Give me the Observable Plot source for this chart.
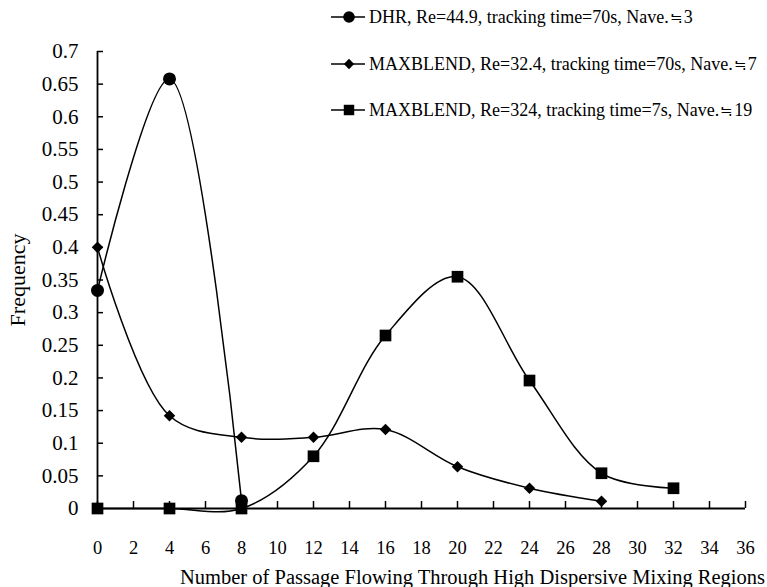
<!DOCTYPE html>
<html><head><meta charset="utf-8">
<script src="https://cdn.jsdelivr.net/npm/d3@7"></script>
<script src="https://cdn.jsdelivr.net/npm/@observablehq/plot@0.6"></script>
<style>
body{margin:0;background:#fff;}
#wrap{position:relative;width:767px;height:587px;font-family:"Liberation Serif","Times New Roman",serif;color:#000;}
#legend{position:absolute;left:331px;top:0;}
.row{position:absolute;left:0;height:24px;display:flex;align-items:center;white-space:nowrap;font-size:18px;}
.row svg{margin-right:4px;}
.cjk{font-family:"Noto Sans CJK JP";font-size:15px;margin:0 1px;}
</style>
</head><body>
<div id="wrap"><div id="legend"></div></div>
<script>
// ---- data ----
const xTicks = [0,2,4,6,8,10,12,14,16,18,20,22,24,26,28,30,32,34,36];
const yTicks = [0,0.05,0.1,0.15,0.2,0.25,0.3,0.35,0.4,0.45,0.5,0.55,0.6,0.65,0.7];
const seriesNames = [
  "DHR, Re=44.9, tracking time=70s, Nave.\u22523",
  "MAXBLEND, Re=32.4, tracking time=70s, Nave.\u22527",
  "MAXBLEND, Re=324, tracking time=7s, Nave.\u225219"
];
const dhrX = [0,4,8];
const dhrY = [0.334,0.658,0.012];
const mb32X = [0,4,8,12,16,20,24,28];
const mb32Y = [0.40,0.142,0.109,0.109,0.121,0.064,0.031,0.011];
const mb324X = [0,4,8,12,16,20,24,28,32];
const mb324Y = [0,0,0,0.08,0.265,0.355,0.196,0.054,0.031];
const xLabel = "Number of Passage Flowing Through High Dispersive Mixing Regions";
const yLabel = "Frequency";

const toRows = (xs, ys) => xs.map((x,i)=>({x, y: ys[i]}));
const dhr = toRows(dhrX, dhrY), mb32 = toRows(mb32X, mb32Y), mb324 = toRows(mb324X, mb324Y);
const symbols = ["circle","diamond2","square"];
const radii = [6.5, 5.2, 6.6];
const lineOpts = {x:"x", y:"y", curve:"catmull-rom", stroke:"black", strokeWidth:1.5};

const chart = Plot.plot({
  width: 767, height: 587,
  marginLeft: 97, marginRight: 22, marginTop: 51, marginBottom: 79,
  style: {fontFamily: '"Liberation Serif", "Times New Roman", serif', fontSize: "18px", color: "black", background: "white"},
  x: {domain: [0,36]},
  y: {domain: [0,0.7]},
  marks: [
    Plot.axisX(xTicks, {tickSize: -7, tickFormat: () => "", strokeWidth: 1.5, label: null}),
    Plot.axisX(xTicks, {tickSize: 0, tickPadding: 32, tickFormat: d => String(d), label: null, fontSize: 18.5}),
    Plot.axisY(yTicks, {tickSize: -6, tickFormat: () => "", strokeWidth: 1.5, label: null}),
    Plot.axisY(yTicks, {tickSize: 0, tickPadding: 19, tickFormat: d => String(+d.toFixed(2)), label: null, fontSize: 21}),
    Plot.ruleY([0], {stroke: "black", strokeWidth: 1.8}),
    Plot.ruleX([0], {stroke: "black", strokeWidth: 1.8}),
    Plot.line(dhr, lineOpts),
    Plot.line(mb32, lineOpts),
    Plot.line(mb324, lineOpts),
    Plot.dot(dhr, {x:"x", y:"y", symbol: symbols[0], r: radii[0], fill: "black"}),
    Plot.dot(mb32, {x:"x", y:"y", symbol: symbols[1], r: radii[1], fill: "black"}),
    Plot.dot(mb324, {x:"x", y:"y", symbol: symbols[2], r: radii[2], fill: "black"}),
    Plot.text([yLabel], {frameAnchor: "left", text: d => d, rotate: -90, dx: -80, textAnchor: "middle", lineAnchor: "middle", fontSize: 22}),
    Plot.text([xLabel], {frameAnchor: "bottom", text: d => d, dx: 51, dy: 69, textAnchor: "middle", lineAnchor: "middle", fontSize: 20.5})
  ]
});
document.getElementById("wrap").prepend(chart);

// legend
const legend = document.getElementById("legend");
const rowTops = [5, 52, 98];
seriesNames.forEach((name, i) => {
  const row = document.createElement("div");
  row.className = "row";
  row.style.top = rowTops[i] + "px";
  const s = d3.create("svg").attr("width", 34).attr("height", 16);
  s.append("line").attr("x1", 0).attr("x2", 34).attr("y1", 8).attr("y2", 8).attr("stroke", "black").attr("stroke-width", 1.5);
  s.append("path").attr("transform", "translate(18,8)")
    .attr("d", d3.symbol(i === 0 ? d3.symbolCircle : i === 1 ? d3.symbolDiamond2 : d3.symbolSquare, Math.PI * radii[i] * radii[i] * 0.8)())
    .attr("fill", "black");
  row.appendChild(s.node());
  const t = document.createElement("span");
  const parts = name.split("\u2252");
  t.appendChild(document.createTextNode(parts[0]));
  const sym = document.createElement("span");
  sym.className = "cjk";
  sym.textContent = "\u2252";
  t.appendChild(sym);
  t.appendChild(document.createTextNode(parts[1]));
  row.appendChild(t);
  legend.appendChild(row);
});
</script>
</body></html>
